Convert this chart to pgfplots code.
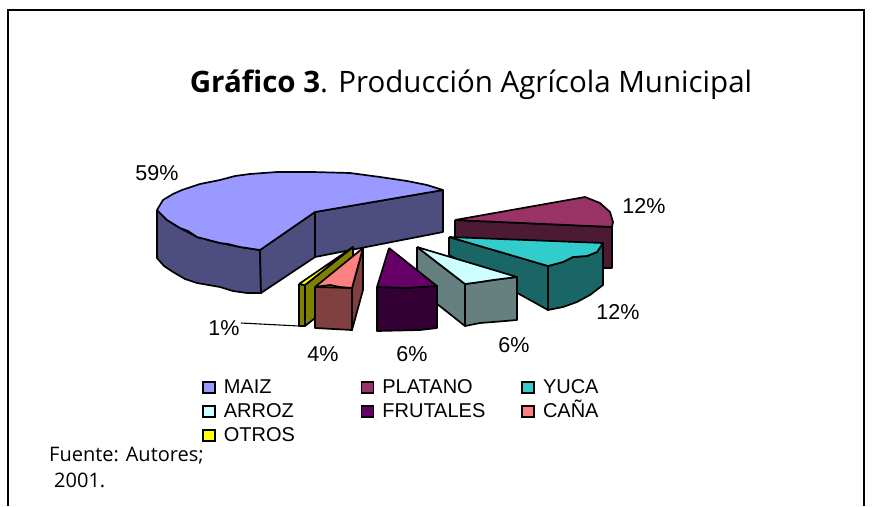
\documentclass[border=0pt]{standalone}
\usepackage{fontspec}
\setmainfont{Liberation Sans}
\newfontfamily\tahoma{Open Sans}
\usepackage{pgfplots}
\pgfplotsset{compat=1.18}
\definecolor{maiz}{HTML}{9999FF}\definecolor{maizd}{HTML}{4D4D80}
\definecolor{plat}{HTML}{993366}\definecolor{platd}{HTML}{4D1A33}
\definecolor{yuca}{HTML}{33CCCC}\definecolor{yucad}{HTML}{1A6666}
\definecolor{arroz}{HTML}{CCFFFF}\definecolor{arrozd}{HTML}{668080}
\definecolor{frut}{HTML}{660066}\definecolor{frutd}{HTML}{330033}
\definecolor{cana}{HTML}{FF8080}\definecolor{canad}{HTML}{804040}
\definecolor{otros}{HTML}{FFFF00}\definecolor{otrosd}{HTML}{808000}
\pgfplotsset{
  face/.style={draw=black, line width=1.7pt, line join=round, fill=#1, forget plot},
}
\begin{document}
\begin{tikzpicture}
\begin{axis}[
  scale only axis, width=874pt, height=506pt,
  xmin=0, xmax=874, ymin=0, ymax=506, y dir=reverse,
  hide axis, clip=false,
  legend columns=3,
  legend cell align=left,
  legend image code/.code={\draw[draw=black, line width=1.6pt, #1] (0pt,-5pt) rectangle (12pt,6.5pt);},
  legend style={at={(axis cs:202,377)}, anchor=north west, draw=none, fill=none,
    font=\fontsize{20}{22}\selectfont, row sep=2pt, inner sep=0pt,
    nodes={text height=14pt, text depth=4pt}},
]
% caja de la pagina
\addplot[draw=none, forget plot] coordinates {(0,0) (874,506)};
% marco
\addplot[black, line width=1.5pt, forget plot] coordinates {(8,506) (8,10) (864,10) (864,506)};

% MAIZ
\addplot[face=maizd] coordinates {(157,210) (157,258) (164,266) (173,272) (185,279) (197,283) (220,287) (233,291) (247,293) (261,293) (260,250) (240,247) (220,243) (197,237) (180,228) (167,220) (157,210)};
\addplot[face=maizd] coordinates {(260,250) (315,212) (315,257) (261,293) (260,250)};
\addplot[face=maizd] coordinates {(315,212) (443,190) (443,232) (315,257) (315,212)};
\addplot[face=maiz] coordinates {(443,190) (315,212) (260,250) (240,247) (228,244) (220,243) (197,237) (188,231) (180,228) (167,220) (157,210) (163,200) (173,194) (182,190) (200,184) (220,180) (235,176) (250,174) (277,172) (313,172) (350,173) (380,177) (407,181) (427,185) (443,190)};

% PLATANO
\addplot[face=platd] coordinates {(455,220) (612,227) (612,268) (590,268) (455,240) (455,220)};
\addplot[face=plat] coordinates {(455,220) (585,197) (600,203) (610,212) (613,222) (612,227) (455,220)};

% YUCA
\addplot[face=yucad] coordinates {(449,237) (548,266) (548,310) (449,255) (449,237)};
\addplot[face=yucad] coordinates {(548,266) (563,262) (573,257) (587,256) (597,252) (603,243) (603,285) (590,295) (577,302) (563,307) (548,310) (548,266)};
\addplot[face=yuca] coordinates {(449,237) (603,243) (597,252) (587,256) (573,257) (563,262) (548,266) (449,237)};

% ARROZ
\addplot[face=arrozd] coordinates {(417,247) (465,284) (465,326) (417,288) (417,247)};
\addplot[face=arrozd] coordinates {(465,284) (480,282) (493,280) (517,277) (517,320) (493,322) (480,323) (465,326) (465,284)};
\addplot[face=arroz] coordinates {(417,247) (517,277) (493,280) (480,282) (465,284) (417,247)};

% FRUTALES
\addplot[face=frutd] coordinates {(377,287) (407,288) (420,287) (437,286) (437,328) (420,330) (377,331) (377,287)};
\addplot[face=frut] coordinates {(389,248) (437,286) (420,287) (407,288) (377,287) (389,248)};

% OTROS
\addplot[face=otrosd] coordinates {(299,284) (305,285) (305,326) (299,326) (299,284)};
\addplot[face=otrosd] coordinates {(305,285) (353,247) (353,288) (305,326) (305,285)};
\addplot[face=otros] coordinates {(299,284) (353,247) (305,285) (299,284)};

% CANA
\addplot[face=canad] coordinates {(315,287) (352,288) (352,330) (315,328) (315,287)};
\addplot[face=canad] coordinates {(363,248) (363,290) (352,330) (352,288) (363,248)};
\addplot[face=cana] coordinates {(363,248) (352,288) (340,287) (330,285) (315,287) (363,248)};

% linea de 1%
\addplot[black, line width=1.1pt, forget plot] coordinates {(241,323) (299,326)};

% leyenda
\addlegendimage{fill=maiz}\addlegendentry{\hspace{6pt}\makebox[135pt][l]{MAIZ}}
\addlegendimage{fill=plat}\addlegendentry{\hspace{6pt}\makebox[137pt][l]{PLATANO}}
\addlegendimage{fill=yuca}\addlegendentry{\hspace{6pt}YUCA}
\addlegendimage{fill=arroz}\addlegendentry{\hspace{6pt}ARROZ}
\addlegendimage{fill=frut}\addlegendentry{\hspace{6pt}FRUTALES}
\addlegendimage{fill=cana}\addlegendentry{\hspace{6pt}CAÑA}
\addlegendimage{fill=otros}\addlegendentry{\hspace{6pt}OTROS}

% textos
\node[font=\tahoma\fontsize{29.5}{32}\selectfont] at (axis cs:471,85) {\textbf{Gráfico 3}. Producción Agrícola Municipal};
\begin{scope}[font=\fontsize{21.5}{24}\selectfont]
\node at (axis cs:157,173) {59\%};
\node at (axis cs:644,206) {12\%};
\node at (axis cs:618,312) {12\%};
\node at (axis cs:514,345) {6\%};
\node at (axis cs:412,354) {6\%};
\node at (axis cs:323,354) {4\%};
\node at (axis cs:224,328) {1\%};
\end{scope}
\node[anchor=west, font=\tahoma\fontsize{20}{22}\selectfont, inner sep=0pt] at (axis cs:49,456) {Fuente: Autores;};
\node[anchor=west, font=\tahoma\fontsize{20}{22}\selectfont, inner sep=0pt] at (axis cs:54,480) {2001.};
\end{axis}
\end{tikzpicture}
\end{document}
